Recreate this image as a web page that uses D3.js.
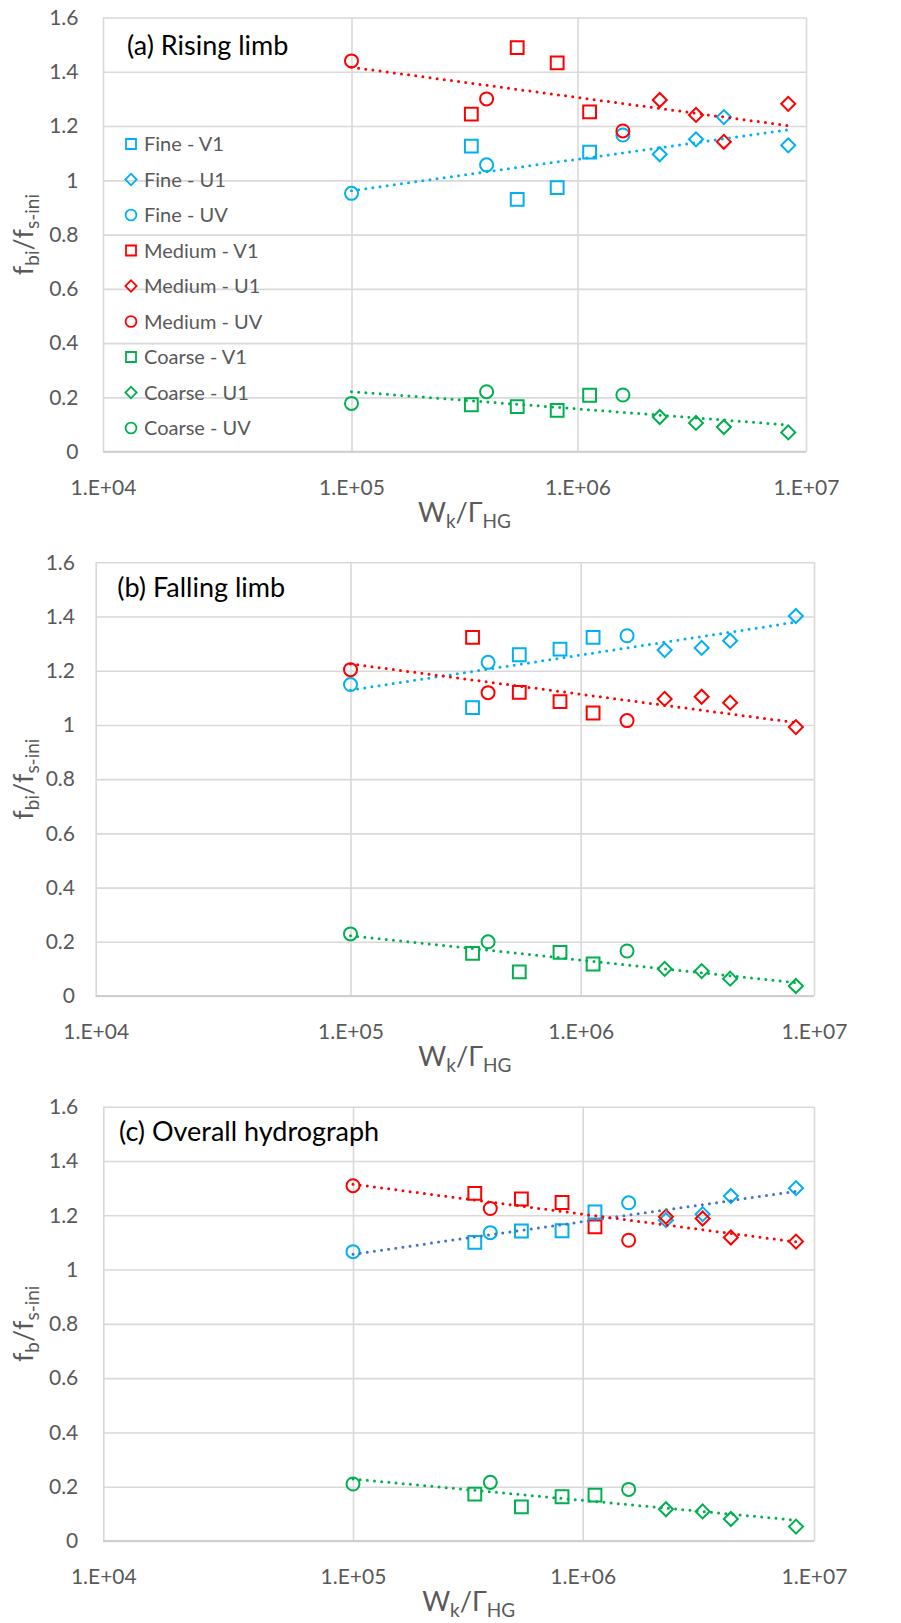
<!DOCTYPE html>
<html>
<head>
<meta charset="utf-8">
<script src="https://cdn.jsdelivr.net/npm/d3@7"></script>
<style>
  html, body { margin: 0; padding: 0; background: #fff; }
  svg { display: block; font-family: Lato, "Open Sans", "Liberation Sans", sans-serif; }
</style>
</head>
<body>
<svg id="chart" width="901" height="1623"></svg>
<script>
// ---------------- DATA ----------------
const seriesNames = ["Fine - V1","Fine - U1","Fine - UV","Medium - V1","Medium - U1","Medium - UV","Coarse - V1","Coarse - U1","Coarse - UV"];
const panelTitles = ["(a) Rising limb", "(b) Falling limb", "(c) Overall hydrograph"];
const yTicks = [0, 0.2, 0.4, 0.6, 0.8, 1, 1.2, 1.4, 1.6];
const yTickLabels = ["0","0.2","0.4","0.6","0.8","1","1.2","1.4","1.6"];
const xTicks = [1e4, 1e5, 1e6, 1e7];
const xTickLabels = ["1.E+04","1.E+05","1.E+06","1.E+07"];

// x positions (W_k / Gamma_HG) shared by all panels
const xV1 = [3.39e5, 5.41e5, 8.13e5, 1.13e6];
const xU1 = [2.29e6, 3.30e6, 4.37e6, 8.36e6];
const xUV = [1.0e5, 3.96e5, 1.58e6];

// (a) Rising limb
const fineV1_a = [1.126, 0.930, 0.973, 1.104];
const fineU1_a = [1.096, 1.151, 1.233, 1.129];
const fineUV_a = [0.952, 1.057, 1.167];
const medV1_a = [1.244, 1.489, 1.433, 1.252];
const medU1_a = [1.296, 1.241, 1.142, 1.282];
const medUV_a = [1.440, 1.300, 1.182];
const coarseV1_a = [0.173, 0.166, 0.152, 0.208];
const coarseU1_a = [0.128, 0.106, 0.091, 0.071];
const coarseUV_a = [0.178, 0.221, 0.209];

// (b) Falling limb
const fineV1_b = [1.064, 1.259, 1.280, 1.323];
const fineU1_b = [1.276, 1.284, 1.311, 1.402];
const fineUV_b = [1.149, 1.231, 1.329];
const medV1_b = [1.323, 1.120, 1.086, 1.044];
const medU1_b = [1.096, 1.104, 1.082, 0.992];
const medUV_b = [1.204, 1.119, 1.016];
const coarseV1_b = [0.157, 0.089, 0.161, 0.118];
const coarseU1_b = [0.100, 0.092, 0.064, 0.037];
const coarseUV_b = [0.229, 0.200, 0.166];

// (c) Overall hydrograph
const fineV1_c = [1.100, 1.142, 1.143, 1.212];
const fineU1_c = [1.182, 1.204, 1.271, 1.300];
const fineUV_c = [1.066, 1.136, 1.246];
const medV1_c = [1.281, 1.260, 1.247, 1.157];
const medU1_c = [1.195, 1.188, 1.118, 1.103];
const medUV_c = [1.309, 1.225, 1.108];
const coarseV1_c = [0.173, 0.126, 0.163, 0.169];
const coarseU1_c = [0.117, 0.109, 0.081, 0.053];
const coarseUV_c = [0.210, 0.216, 0.190];

// ---------------- STYLE / LAYOUT ----------------
const colFine = "#00B0F0", colMed = "#FF0000", colCoarse = "#00B050";
const gridCol = "#D9D9D9", textCol = "#595959";

const panelData = [
  [fineV1_a, fineU1_a, fineUV_a, medV1_a, medU1_a, medUV_a, coarseV1_a, coarseU1_a, coarseUV_a],
  [fineV1_b, fineU1_b, fineUV_b, medV1_b, medU1_b, medUV_b, coarseV1_b, coarseU1_b, coarseUV_b],
  [fineV1_c, fineU1_c, fineUV_c, medV1_c, medU1_c, medUV_c, coarseV1_c, coarseU1_c, coarseUV_c]
];
const seriesX = [xV1, xU1, xUV, xV1, xU1, xUV, xV1, xU1, xUV];
const seriesShape = ["square","diamond","circle","square","diamond","circle","square","diamond","circle"];
const seriesColor = [colFine,colFine,colFine,colMed,colMed,colMed,colCoarse,colCoarse,colCoarse];

const layout = [
  {xr:[103,351.5,577.5,806], top:17.5, bottom:451.7, tdx:24, tdy:37.5, ypad:24.5, ysub:"bi", fineTrend:colFine, legend:true},
  {xr:[95.7,350.5,580.7,814], top:562.3, bottom:996, tdx:21.6, tdy:35, ypad:20.7, ysub:"bi", fineTrend:colFine, legend:false},
  {xr:[103.3,353,582.7,814], top:1106.7, bottom:1541, tdx:15.7, tdy:34.3, ypad:25, ysub:"b", fineTrend:"#4472C4", legend:false}
];

const svg = d3.select("#chart");

function symbolPath(shape, big) {
  if (shape === "square") return d3.symbol(d3.symbolSquare, big ? 164 : 100)();
  if (shape === "diamond") return d3.symbol(d3.symbolSquare, big ? 98 : 64)();
  return d3.symbol(d3.symbolCircle, big ? 133 : 92)();
}
function symbolTransform(shape, x, y) {
  return shape === "diamond" ? `translate(${x},${y}) rotate(45)` : `translate(${x},${y})`;
}

// logarithmic trendline (least squares of y on ln x)
function logFit(xs, ys) {
  const lx = xs.map(Math.log);
  const mx = d3.mean(lx), my = d3.mean(ys);
  const b = d3.sum(lx, (v, i) => (v - mx) * (ys[i] - my)) / d3.sum(lx, v => (v - mx) * (v - mx));
  const a = my - b * mx;
  return x => a + b * Math.log(x);
}

layout.forEach((L, pi) => {
  const g = svg.append("g");
  const left = L.xr[0], right = L.xr[L.xr.length - 1];
  const x = d3.scaleLog().domain(xTicks).range(L.xr);
  const y = d3.scaleLinear().domain([0, 1.6]).range([L.bottom, L.top]);

  // gridlines
  g.append("g")
    .attr("transform", `translate(${left},0)`)
    .call(d3.axisLeft(y).tickValues(yTicks).tickSize(-(right - left)).tickFormat(""))
    .call(s => s.select(".domain").remove())
    .call(s => s.selectAll("line").attr("stroke", gridCol).attr("stroke-width", 1.6));
  g.append("g")
    .attr("transform", `translate(0,${L.bottom})`)
    .call(d3.axisBottom(x).tickValues(xTicks).tickSize(-(L.bottom - L.top)).tickFormat(""))
    .call(s => s.select(".domain").remove())
    .call(s => s.selectAll("line").attr("stroke", gridCol).attr("stroke-width", 1.6));
  g.append("line").attr("x1", left).attr("x2", right).attr("y1", L.bottom).attr("y2", L.bottom)
    .attr("stroke", "#CFCFCF").attr("stroke-width", 1.8);

  // tick labels
  g.append("g")
    .attr("transform", `translate(${left},0)`)
    .call(d3.axisLeft(y).tickValues(yTicks).tickSize(0).tickPadding(L.ypad).tickFormat((d, i) => yTickLabels[i]))
    .call(s => s.select(".domain").remove())
    .call(s => s.selectAll("text").attr("fill", textCol).style("font-size", "21px").style("font-family", "Lato, 'Open Sans', sans-serif"));
  g.append("g")
    .attr("transform", `translate(0,${L.bottom})`)
    .call(d3.axisBottom(x).tickValues(xTicks).tickSize(0).tickPadding(28).tickFormat((d, i) => xTickLabels[i]))
    .call(s => s.select(".domain").remove())
    .call(s => s.selectAll("text").attr("fill", textCol).style("font-size", "21px").style("font-family", "Lato, 'Open Sans', sans-serif"));

  // axis titles
  const xt = g.append("text")
    .attr("x", (left + right) / 2 + 10).attr("y", L.bottom + 70)
    .attr("text-anchor", "middle").attr("fill", textCol).style("font-size", "27px");
  xt.append("tspan").text("W");
  xt.append("tspan").attr("dy", 6).style("font-size", "19px").text("k");
  xt.append("tspan").attr("dy", -6).text("/Γ");
  xt.append("tspan").attr("dy", 6).style("font-size", "19px").text("HG");

  const yc = (L.top + L.bottom) / 2;
  const yt = g.append("text")
    .attr("transform", `translate(33,${yc}) rotate(-90)`)
    .attr("text-anchor", "middle").attr("fill", textCol).style("font-size", "27px");
  yt.append("tspan").text("f");
  yt.append("tspan").attr("dy", 6).style("font-size", "19px").text(L.ysub);
  yt.append("tspan").attr("dy", -6).text("/f");
  yt.append("tspan").attr("dy", 6).style("font-size", "19px").text("s-ini");

  // panel title
  g.append("text")
    .attr("x", left + L.tdx).attr("y", L.top + L.tdy)
    .attr("fill", "#000").style("font-size", "27px")
    .text(panelTitles[pi]);

  // markers
  const data = panelData[pi];
  data.forEach((vals, si) => {
    const xs = seriesX[si];
    g.append("g").selectAll("path")
      .data(vals)
      .join("path")
      .attr("d", symbolPath(seriesShape[si], true))
      .attr("transform", (d, i) => symbolTransform(seriesShape[si], x(xs[i]), y(d)))
      .attr("fill", "none")
      .attr("stroke", seriesColor[si])
      .attr("stroke-width", 2);
  });

  // trendlines per grain size
  const groups = [[0,1,2], [3,4,5], [6,7,8]];
  const trendCols = [L.fineTrend, colMed, colCoarse];
  groups.forEach((idx, gi) => {
    const xs = [], ys = [];
    idx.forEach(si => data[si].forEach((v, i) => { xs.push(seriesX[si][i]); ys.push(v); }));
    const f = logFit(xs, ys);
    const ends = d3.extent(xs);
    g.append("path")
      .datum(ends)
      .attr("d", d3.line().x(d => x(d)).y(d => y(f(d))))
      .attr("fill", "none")
      .attr("stroke", trendCols[gi])
      .attr("stroke-width", 3)
      .attr("stroke-linecap", "round")
      .attr("stroke-dasharray", "0 7.2");
  });

  // legend (panel a only)
  if (L.legend) {
    const lg = g.append("g");
    seriesNames.forEach((name, si) => {
      const cy = 144 + si * 35.5;
      lg.append("path")
        .attr("d", symbolPath(seriesShape[si], false))
        .attr("transform", symbolTransform(seriesShape[si], 131, cy))
        .attr("fill", "none").attr("stroke", seriesColor[si]).attr("stroke-width", 1.8);
      lg.append("text")
        .attr("x", 144).attr("y", cy).attr("dy", "0.35em")
        .attr("fill", textCol).style("font-size", "20px")
        .text(name);
    });
  }
});
</script>
</body>
</html>
